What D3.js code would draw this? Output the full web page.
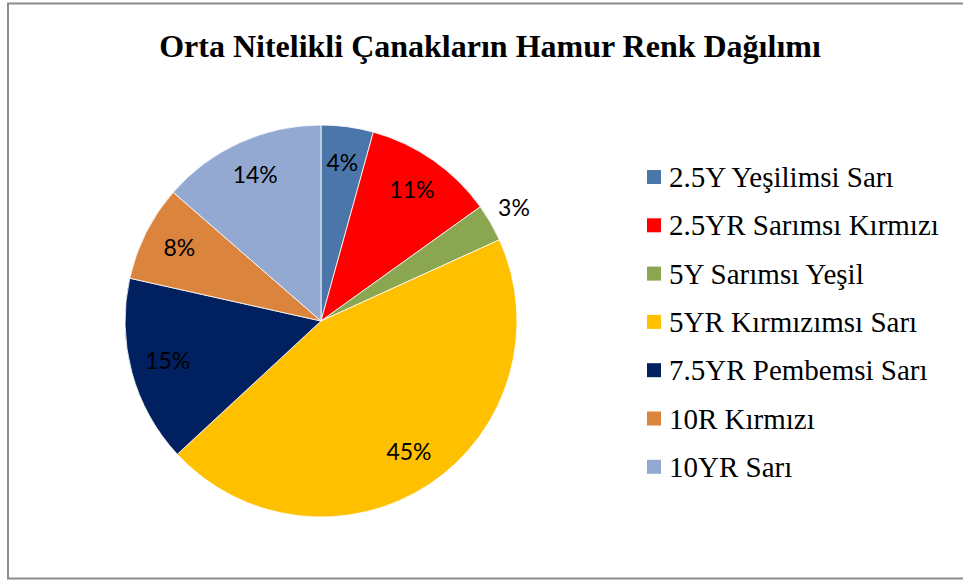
<!DOCTYPE html>
<html>
<head>
<meta charset="utf-8">
<script src="https://cdn.jsdelivr.net/npm/d3@7"></script>
<style>
  body { margin: 0; background: #fff; }
</style>
</head>
<body>
<svg id="chart" width="963" height="581"></svg>
<script>
// hamur renkleri
const categories = ['2.5Y Yeşilimsi Sarı', '2.5YR Sarımsı Kırmızı', '5Y Sarımsı Yeşil', '5YR Kırmızımsı Sarı', '7.5YR Pembemsi Sarı', '10R Kırmızı', '10YR Sarı'];
const shares = [4.3, 10.8, 3.1, 44.9, 15.4, 7.9, 13.6];
const colors = ['#4A76AA', '#FF0000', '#8BA650', '#FFC000', '#002060', '#DB843D', '#94A9D1'];
const title = 'Orta Nitelikli Çanakların Hamur Renk Dağılımı';

var svg = d3.select('#chart');
var cx = 321, cy = 321, radius = 196;
var serif = '"Liberation Serif", "Times New Roman", serif';

svg.append('rect')
   .attr('x', 8).attr('y', 3.5)
   .attr('width', 970).attr('height', 575)
   .attr('fill', '#fff')
   .attr('stroke', '#8c8c8c')
   .attr('stroke-width', 2);

svg.append('text')
   .attr('x', 490).attr('y', 57)
   .attr('text-anchor', 'middle')
   .style('font-family', serif)
   .attr('font-weight', 700)
   .attr('font-size', 32)
   .text(title);

var data = categories.map((c, i) => ({ name: c, value: shares[i], color: colors[i] }));
var pie = d3.pie().sort(null).value(d => d.value);
var arc = d3.arc().innerRadius(0).outerRadius(radius);
var arcs = pie(data);

var g = svg.append('g').attr('transform', `translate(${cx},${cy})`);

g.selectAll('path').data(arcs).enter().append('path')
 .attr('d', arc)
 .attr('fill', d => d.data.color)
 .attr('stroke', '#fff')
 .attr('stroke-width', 0.8);

// etiketler: kucuk dilim disarida
g.selectAll('text.lbl').data(arcs).enter().append('text')
 .attr('class', 'lbl')
 .attr('transform', function(d) {
   var mid = (d.startAngle + d.endAngle) / 2;
   var r = (d.data.value < 4) ? radius + 27 : radius * 0.81;
   return `translate(${Math.sin(mid) * r},${-Math.cos(mid) * r})`;
 })
 .attr('dy', '0.3em')
 .attr('text-anchor', 'middle')
 .style('font-family', 'Lato, "Open Sans", sans-serif')
 .attr('font-size', 23)
 .attr('fill', '#000')
 .text(d => Math.round(d.data.value) + '%');

var legend = svg.append('g').attr('transform', 'translate(647,177)');
var row = legend.selectAll('g').data(data).enter().append('g')
                .attr('transform', (d, i) => `translate(0,${i * 48.3})`);
row.append('rect')
   .attr('x', 0).attr('y', -7)
   .attr('width', 14).attr('height', 14)
   .attr('fill', d => d.color);
row.append('text')
   .attr('x', 22).attr('y', 0)
   .attr('dy', '0.35em')
   .style('font-family', serif)
   .attr('font-size', 29)
   .text(d => d.name);
</script>
</body>
</html>
